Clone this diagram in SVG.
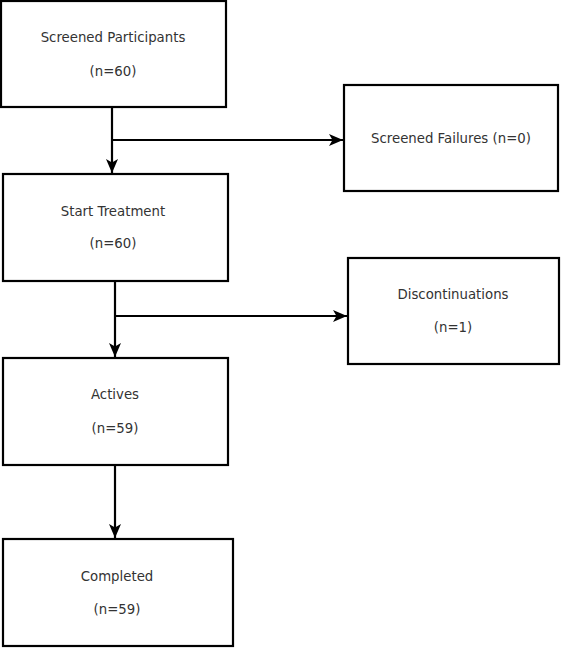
<svg xmlns="http://www.w3.org/2000/svg" width="561" height="648" viewBox="0 0 561 648">
<defs>
<marker id="arr" markerUnits="userSpaceOnUse" markerWidth="16" markerHeight="16" viewBox="0 0 16 16" refX="15" refY="8" orient="auto">
<path d="M1,2 L15,8 L1,14 L4.5,8 Z" fill="#000"/>
</marker>
</defs>
<style>
.box{fill:#fff;stroke:#000;stroke-width:2.2}
.t{font-family:"DejaVu Sans",sans-serif;font-size:13.3px;fill:#333;text-anchor:middle}
.c{fill:none;stroke:#000;stroke-width:2.2}
</style>
<rect width="561" height="648" fill="#fff"/>
<g id="n1"><rect class="box" x="1" y="1" width="225" height="106"/><text class="t" x="113" y="42">Screened Participants</text><text class="t" x="113" y="76">(n=60)</text></g>
<g id="n2"><rect class="box" x="344" y="85" width="214" height="106"/><text class="t" x="451" y="143">Screened Failures (n=0)</text></g>
<g id="n3"><rect class="box" x="3" y="174" width="225" height="107"/><text class="t" x="113" y="216">Start Treatment</text><text class="t" x="113" y="248">(n=60)</text></g>
<g id="n4"><rect class="box" x="348" y="258" width="211" height="106"/><text class="t" x="453" y="299">Discontinuations</text><text class="t" x="453" y="332">(n=1)</text></g>
<g id="n5"><rect class="box" x="3" y="358" width="225" height="107"/><text class="t" x="115" y="399">Actives</text><text class="t" x="115" y="433">(n=59)</text></g>
<g id="n6"><rect class="box" x="3" y="539" width="230" height="107"/><text class="t" x="117" y="581">Completed</text><text class="t" x="117" y="614">(n=59)</text></g>
<g id="connectors">
<path class="c" d="M112,107 V173" marker-end="url(#arr)"/>
<path class="c" d="M112,140 H343" marker-end="url(#arr)"/>
<path class="c" d="M115,281 V357" marker-end="url(#arr)"/>
<path class="c" d="M115,316 H347" marker-end="url(#arr)"/>
<path class="c" d="M115,465 V538" marker-end="url(#arr)"/>
</g>
</svg>
